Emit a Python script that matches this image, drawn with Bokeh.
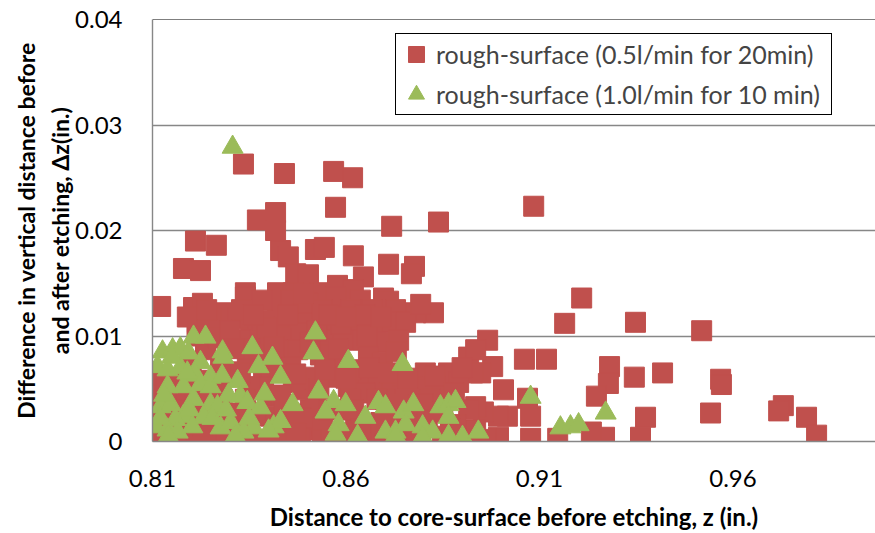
from bokeh.plotting import figure
from bokeh.models import Range1d, FixedTicker, Span, Legend, LegendItem
from bokeh.embed import file_html
from bokeh.resources import INLINE

# ---- data -------------------------------------------------------------
x_ticks = [0.81, 0.86, 0.91, 0.96]
x_tick_labels = ["0.81", "0.86", "0.91", "0.96"]
y_ticks = [0, 0.01, 0.02, 0.03, 0.04]
y_tick_labels = ["0", "0.01", "0.02", "0.03", "0.04"]

series_05_name = "rough-surface (0.5l/min for 20min)"
series_10_name = "rough-surface (1.0l/min for 10 min)"

# rough-surface (0.5 l/min for 20 min): z (in.)
rough05_z = [
    0.8335, 0.8441, 0.8568, 0.8617, 0.8573, 0.8371, 0.8418, 0.8418, 0.8718, 0.8839,
    0.8211, 0.8265, 0.8180, 0.8224, 0.8431, 0.8451, 0.8521, 0.8544, 0.8619, 0.8710,
    0.8777, 0.8769, 0.8645, 0.8470, 0.8503, 0.8340, 0.8121, 0.8206, 0.8229, 0.8291,
    0.8697, 0.8710, 0.8826, 0.8423, 0.8464, 0.8534, 0.8578, 0.8619,
    0.9085, 0.9209, 0.9165, 0.9348, 0.9519, 0.8966, 0.8917, 0.8979, 0.9061, 0.9118,
    0.9281, 0.9278, 0.9247, 0.9345, 0.9418, 0.9568, 0.9570, 0.9542, 0.9730, 0.9718,
    0.9790, 0.9816, 0.9374, 0.9361, 0.9268, 0.9234, 0.9147, 0.9077, 0.9077, 0.9007,
    0.9069, 0.8994, 0.9017, 0.8994, 0.8948, 0.8955, 0.8935, 0.8935, 0.8963, 0.8883,
    0.8865, 0.8935,
    0.8113, 0.8108, 0.8113, 0.8147, 0.8198, 0.8180, 0.8224, 0.8250, 0.8206, 0.8180,
    0.8224, 0.8294, 0.8309, 0.8371, 0.8397, 0.8439, 0.8405, 0.8397, 0.8387, 0.8353,
    0.8268, 0.8276, 0.8307, 0.8345, 0.8327, 0.8276, 0.8405, 0.8379, 0.8353, 0.8384,
    0.8423, 0.8457, 0.8482, 0.8439, 0.8501, 0.8501, 0.8475, 0.8431, 0.8439, 0.8475,
    0.8457, 0.8464, 0.8508, 0.8490, 0.8508, 0.8501, 0.8289, 0.8281, 0.8258, 0.8216,
    0.8250, 0.8340, 0.8573, 0.8637, 0.8668, 0.8728, 0.8780, 0.8539, 0.8573, 0.8632,
    0.8676, 0.8720, 0.8754, 0.8547, 0.8591, 0.8643, 0.8694, 0.8736, 0.8565, 0.8658,
    0.8694, 0.8805, 0.8865, 0.8927, 0.8891, 0.8831, 0.8772, 0.8720, 0.8668, 0.8632,
    0.8565, 0.8606, 0.8650, 0.8746, 0.8798, 0.8849, 0.8917, 0.8917, 0.8668, 0.8606,
    0.8746, 0.8849, 0.8772, 0.8625, 0.8539, 0.8539, 0.8710, 0.8818, 0.8883, 0.8586,
    0.8702, 0.8534, 0.8586, 0.8612, 0.8612, 0.8431, 0.8457, 0.8366, 0.8340, 0.8314,
    0.8263, 0.8134, 0.8159, 0.8121, 0.8237, 0.8327, 0.8392, 0.8508, 0.8320, 0.8384,
    0.8650, 0.8793, 0.8159, 0.8198, 0.8121, 0.8250, 0.8327, 0.8482, 0.8521, 0.8560,
    0.8702, 0.8793, 0.8883, 0.8728, 0.8612, 0.8818,
    0.8395, 0.8415, 0.8450, 0.8470, 0.8440, 0.8485, 0.8525, 0.8530, 0.8545, 0.8555,
    0.8555, 0.8490, 0.8420, 0.8470, 0.8580, 0.8600, 0.8620, 0.8640, 0.8660, 0.8680,
    0.8690, 0.8710, 0.8730, 0.8735, 0.8600, 0.8655, 0.8600, 0.8690, 0.8760, 0.8780,
    0.8800, 0.8810, 0.8830, 0.8850, 0.8870, 0.8880, 0.8900, 0.8190, 0.8240, 0.8270,
    0.8300, 0.8330, 0.8360, 0.8350, 0.8310, 0.8215, 0.8135, 0.8170, 0.8200, 0.8240,
    0.8260, 0.8290, 0.8230, 0.8160, 0.8350, 0.8280,
]
# rough-surface (0.5 l/min for 20 min): delta z (in.)
rough05_dz = [
    0.0263, 0.0254, 0.0256, 0.0250, 0.0222, 0.0210, 0.0217, 0.0200, 0.0204, 0.0208,
    0.0190, 0.0186, 0.0164, 0.0162, 0.0181, 0.0175, 0.0182, 0.0184, 0.0176, 0.0168,
    0.0166, 0.0159, 0.0156, 0.0159, 0.0158, 0.0141, 0.0128, 0.0127, 0.0131, 0.0119,
    0.0136, 0.0133, 0.0122, 0.0141, 0.0141, 0.0141, 0.0148, 0.0144,
    0.0223, 0.0136, 0.0112, 0.0113, 0.0105, 0.0096, 0.0080, 0.0071, 0.0078, 0.0078,
    0.0071, 0.0055, 0.0043, 0.0061, 0.0065, 0.0059, 0.0054, 0.0027, 0.0034, 0.0029,
    0.0023, 0.0006, 0.0023, 0.0004, 0.0004, 0.0009, 0.0003, 0.0003, 0.0024, 0.0049,
    0.0041, 0.0004, 0.0024, 0.0024, 0.0065, 0.0028, 0.0033, 0.0011, 0.0002, 0.0061,
    0.0054, 0.0087,
    0.0035, 0.0002, 0.0024, 0.0001, 0.0001, 0.0011, 0.0005, 0.0001, 0.0049, 0.0040,
    0.0030, 0.0027, 0.0002, 0.0002, 0.0002, 0.0005, 0.0024, 0.0043, 0.0059, 0.0052,
    0.0049, 0.0056, 0.0066, 0.0076, 0.0065, 0.0071, 0.0071, 0.0094, 0.0103, 0.0115,
    0.0127, 0.0134, 0.0118, 0.0109, 0.0113, 0.0131, 0.0103, 0.0099, 0.0087, 0.0087,
    0.0071, 0.0056, 0.0061, 0.0049, 0.0030, 0.0011, 0.0122, 0.0109, 0.0103, 0.0113,
    0.0117, 0.0137, 0.0137, 0.0134, 0.0125, 0.0125, 0.0122, 0.0125, 0.0113, 0.0109,
    0.0109, 0.0113, 0.0113, 0.0096, 0.0096, 0.0096, 0.0094, 0.0096, 0.0078, 0.0080,
    0.0075, 0.0065, 0.0065, 0.0065, 0.0056, 0.0052, 0.0052, 0.0056, 0.0059, 0.0061,
    0.0061, 0.0052, 0.0046, 0.0043, 0.0049, 0.0046, 0.0030, 0.0002, 0.0009, 0.0001,
    0.0002, 0.0005, 0.0021, 0.0018, 0.0014, 0.0001, 0.0024, 0.0030, 0.0016, 0.0030,
    0.0040, 0.0082, 0.0111, 0.0125, 0.0068, 0.0044, 0.0026, 0.0026, 0.0040, 0.0016,
    0.0016, 0.0016, 0.0044, 0.0059, 0.0087, 0.0096, 0.0082, 0.0094, 0.0117, 0.0134,
    0.0120, 0.0130, 0.0030, 0.0021, 0.0044, 0.0044, 0.0021, 0.0002, 0.0040, 0.0002,
    0.0002, 0.0002, 0.0002, 0.0021, 0.0040, 0.0040,
    0.0108, 0.0090, 0.0120, 0.0064, 0.0035, 0.0022, 0.0105, 0.0050, 0.0068, 0.0030,
    0.0120, 0.0140, 0.0015, 0.0008, 0.0088, 0.0060, 0.0030, 0.0012, 0.0070, 0.0040,
    0.0018, 0.0065, 0.0085, 0.0035, 0.0118, 0.0100, 0.0008, 0.0118, 0.0060, 0.0010,
    0.0036, 0.0020, 0.0062, 0.0028, 0.0012, 0.0046, 0.0070, 0.0118, 0.0125, 0.0098,
    0.0105, 0.0125, 0.0120, 0.0088, 0.0088, 0.0100, 0.0050, 0.0060, 0.0070, 0.0058,
    0.0025, 0.0008, 0.0015, 0.0005, 0.0010, 0.0040,
]

# rough-surface (1.0 l/min for 10 min): z (in.)
rough10_z = [
    0.8307, 0.8206, 0.8237, 0.8126, 0.8152, 0.8172, 0.8193, 0.8281, 0.8283, 0.8358,
    0.8374, 0.8410, 0.8431, 0.8113, 0.8139, 0.8172, 0.8224, 0.8250, 0.8211, 0.8139,
    0.8180, 0.8224, 0.8320, 0.8296, 0.8327, 0.8345, 0.8379, 0.8462, 0.8250, 0.8206,
    0.8121, 0.8147, 0.8180, 0.8159, 0.8232, 0.8268, 0.8108, 0.8139, 0.8165, 0.8141,
    0.8203, 0.8276, 0.8302, 0.8361, 0.8335, 0.8413, 0.8431, 0.8314, 0.8516, 0.8521,
    0.8606, 0.8746, 0.8529, 0.8568, 0.8599, 0.8547, 0.8684, 0.8702, 0.8749, 0.8774,
    0.8844, 0.8865, 0.8883, 0.8581, 0.8650, 0.8573, 0.8630, 0.8702, 0.8728, 0.8754,
    0.8798, 0.8824, 0.8798, 0.8865, 0.8865, 0.8901, 0.8942, 0.8728, 0.9077, 0.9154,
    0.9180, 0.9201, 0.9271,
    0.8150, 0.8190, 0.8250, 0.8280, 0.8130, 0.8195, 0.8255, 0.8120, 0.8290, 0.8350,
    0.8390, 0.8400,
]
# rough-surface (1.0 l/min for 10 min): delta z (in.)
rough10_dz = [
    0.0279, 0.0099, 0.0099, 0.0085, 0.0087, 0.0088, 0.0084, 0.0085, 0.0080, 0.0089,
    0.0071, 0.0079, 0.0061, 0.0071, 0.0068, 0.0070, 0.0075, 0.0061, 0.0063, 0.0052,
    0.0052, 0.0054, 0.0057, 0.0044, 0.0043, 0.0037, 0.0032, 0.0035, 0.0035, 0.0040,
    0.0033, 0.0035, 0.0024, 0.0021, 0.0023, 0.0033, 0.0014, 0.0011, 0.0009, 0.0005,
    0.0014, 0.0013, 0.0018, 0.0013, 0.0009, 0.0014, 0.0019, 0.0005, 0.0084, 0.0103,
    0.0076, 0.0073, 0.0047, 0.0038, 0.0035, 0.0028, 0.0037, 0.0033, 0.0028, 0.0035,
    0.0033, 0.0035, 0.0038, 0.0016, 0.0023, 0.0007, 0.0005, 0.0009, 0.0009, 0.0016,
    0.0014, 0.0009, 0.0004, 0.0023, 0.0005, 0.0004, 0.0009, 0.0005, 0.0042, 0.0013,
    0.0014, 0.0016, 0.0027,
    0.0080, 0.0065, 0.0052, 0.0062, 0.0044, 0.0030, 0.0022, 0.0022, 0.0030, 0.0022,
    0.0045, 0.0010,
]

# ---- styles -----------------------------------------------------------
RED = "#C0504D"
GREEN = "#9BBB59"
GRID = "#878787"
FONT = "Lato"

p = figure(
    width=875, height=533,
    output_backend="svg", toolbar_location=None,
    x_range=Range1d(0.81, 0.99682), y_range=Range1d(0, 0.04),
    min_border_left=152, min_border_right=0, min_border_top=19, min_border_bottom=91,
)
p.outline_line_color = None
p.background_fill_color = "white"
p.border_fill_color = "white"

p.xgrid.grid_line_color = None
p.ygrid.grid_line_color = GRID
p.ygrid.grid_line_width = 1.4

p.xaxis.ticker = FixedTicker(ticks=x_ticks)
p.yaxis.ticker = FixedTicker(ticks=y_ticks)
p.xaxis.major_label_overrides = dict(zip(x_ticks, x_tick_labels))
p.yaxis.major_label_overrides = dict(zip(y_ticks, y_tick_labels))

for ax in (p.xaxis, p.yaxis):
    ax.axis_line_color = GRID
    ax.axis_line_width = 1.4
    ax.major_tick_line_color = None
    ax.minor_tick_line_color = None
    ax.major_label_text_font = FONT
    ax.major_label_text_font_size = "24px"
    ax.major_label_text_color = "black"
    ax.axis_label_text_font = FONT
    ax.axis_label_text_font_style = "bold"
    ax.axis_label_text_color = "black"

p.xaxis.axis_label_text_font_size = "24px"
p.yaxis.axis_label_text_font_size = "23px"
p.xaxis.major_label_standoff = 22
p.yaxis.major_label_standoff = 24
p.xaxis.axis_label = "Distance to core-surface before etching, z (in.)"
p.yaxis.axis_label = "Difference in vertical distance before\nand after etching, \u0394z(in.)"
p.xaxis.axis_label_standoff = 12
p.yaxis.axis_label_standoff = -2

p.add_layout(Span(location=y_ticks[-1], dimension="width", line_color="black", line_width=1.2))

r05 = p.scatter(rough05_z, rough05_dz, marker="square", size=20,
                fill_color=RED, line_color=RED, line_width=1)
r10 = p.scatter(rough10_z, rough10_dz, marker="triangle", size=21,
                fill_color=GREEN, line_color=GREEN, line_width=1)

legend = Legend(
    items=[LegendItem(label=series_05_name, renderers=[r05]),
           LegendItem(label=series_10_name, renderers=[r10])],
    location=(243, 326),
    border_line_color="black", border_line_width=1.2, border_line_alpha=1,
    background_fill_color="white", background_fill_alpha=1,
    label_text_font=FONT, label_text_font_size="25px",
    glyph_width=40, glyph_height=40, spacing=-2, padding=0, margin=0,
    label_standoff=0, label_width=395,
)
p.add_layout(legend)

open("out.html", "w").write(file_html(p, INLINE))
